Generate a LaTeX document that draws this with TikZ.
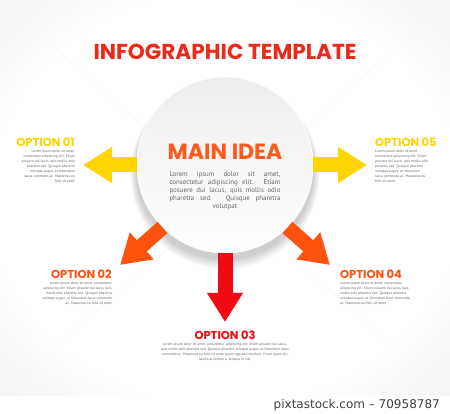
\documentclass[tikz,border=0pt]{standalone}
\usepackage{fontspec}
\setmainfont{PT Sans}
\newfontfamily\headfont{Poppins}
\newfontfamily\markfont{DejaVu Sans}
\usetikzlibrary{positioning,arrows.meta}
\definecolor{optyellow}{HTML}{FFD400}
\definecolor{optorange}{HTML}{FF520F}
\definecolor{optred}{HTML}{F20A14}
\definecolor{titlered}{HTML}{EC2A1C}
\definecolor{ideaorange}{HTML}{FF5A1E}
\definecolor{bodygray}{HTML}{666666}
\definecolor{midgray}{HTML}{E8E2E5}
\definecolor{edgegray}{HTML}{D0C5CA}
\pgfdeclareradialshading{vignette}{\pgfpoint{0bp}{0bp}}{color(0bp)=(white); color(26bp)=(white); color(50bp)=(midgray); color(72bp)=(edgegray); color(100bp)=(edgegray)}
\begin{document}
\begin{tikzpicture}[x=1pt, y=-1pt,
  opt/.style={font=\headfont\bfseries\fontsize{11.5}{11.5}\selectfont, inner sep=0pt},
  body/.style={font=\fontsize{3.6}{5}\selectfont, text=bodygray, inner sep=0pt},
  bigarrow/.style={line width=15pt, -{Triangle[length=29pt,width=34pt]}}]
  % background and bounding box
  \useasboundingbox (0,0) rectangle (450,414);
  \shade[shading=vignette] (0,0) rectangle (450,396);
  \fill[white] (0,396) rectangle (450,414);
  \foreach \a/\b in {{(0,0)}/{(450,396)}, {(450,0)}/{(0,396)}}
    \draw[white!93!gray, line width=0.4pt] \a -- \b;

  % title
  \node[font=\headfont\bfseries\fontsize{21.6}{22}\selectfont, text=titlered, inner sep=0pt] (title) at (225,52) {INFOGRAPHIC TEMPLATE};

  % soft shadow under the circle
  \foreach \i in {0,...,7}
    \fill[black, opacity=0.022] (225,171+\i*0.5) circle (89+\i*0.8);
  \node[circle, minimum size=176pt, inner sep=0pt, top color=gray!14, bottom color=white, draw=white, line width=0.8pt] (main) at (225,165) {};
  \node[font=\headfont\bfseries\fontsize{22}{22}\selectfont, text=ideaorange, inner sep=0pt] (idea) at (225,152) {MAIN IDEA};
  \node[font=\fontsize{6.9}{8}\selectfont, text=bodygray, text width=111pt, align=justify, inner sep=0pt, anchor=north]
    (ideatext) at (225,171) {Lorem ipsum dolor sit amet,\linebreak consectetur adipiscing elit. Etiam\linebreak posuere dui lacus, quis mollis odio\linebreak pharetra sed. Quisque pharetra\linebreak \mbox{}\hfill volutpat\hfill\mbox{}};

  % arrow tips
  \coordinate (t1) at (83,165);
  \coordinate (t2) at (120,265);
  \coordinate (t3) at (225,322);
  \coordinate (t4) at (330,265);
  \coordinate (t5) at (367,165);
  \draw[bigarrow, optyellow] (main.west) -- (t1);
  \draw[bigarrow, optorange] (main.-135) -- (t2);
  \draw[bigarrow, optred] (main.south) -- (t3);
  \draw[bigarrow, optorange] (main.-45) -- (t4);
  \draw[bigarrow, optyellow] (main.east) -- (t5);

  % options
  \node[opt, text=optyellow, anchor=east] (o1) at (75,142) {OPTION 01};
  \node[body, align=right, below left=3.5pt and 0pt of o1.south east] (b1) {Lorem ipsum dolor sit amet,\\ consectetur adipiscing elit. Etiam\\ posuere dui lacus, quis mollis odio\\ pharetra sed. Quisque pharetra\\ volutpat augue, ac bibendum\\ lacus commodo ac. Maecenas eu\\ felis sit amet};
  \node[opt, text=optyellow, anchor=west] (o5) at (375,142) {OPTION 05};
  \node[body, align=left, below right=3.5pt and 0pt of o5.south west] (b5) {Lorem ipsum dolor sit amet,\\ consectetur adipiscing elit. Etiam\\ posuere dui lacus, quis mollis odio\\ pharetra sed. Quisque pharetra\\ volutpat augue, ac bibendum\\ lacus commodo ac. Maecenas eu\\ felis sit amet};
  \node[opt, text=optorange, anchor=east] (o2) at (112,274) {OPTION 02};
  \node[body, align=right, below left=3.5pt and 0pt of o2.south east] (b2) {Lorem ipsum dolor sit amet, consectetur\\ adipiscing elit. Etiam posuere dui lacus, quis\\ mollis odio pharetra sed. Quisque pharetra\\ volutpat augue, ac bibendum lacus commodo\\ ac. Maecenas eu felis sit amet};
  \node[opt, text=optorange, anchor=west] (o4) at (340,274) {OPTION 04};
  \node[body, align=left, below right=3.5pt and 0pt of o4.south west] (b4) {Lorem ipsum dolor sit amet, consectetur\\ adipiscing elit. Etiam posuere dui lacus, quis\\ mollis odio pharetra sed. Quisque pharetra\\ volutpat augue, ac bibendum lacus commodo\\ ac. Maecenas eu felis sit amet};
  \node[opt, text=optred] (o3) at (225,335) {OPTION 03};
  \node[body, align=center, below=3.5pt of o3] (b3) {Lorem ipsum dolor sit amet, consectetur adipiscing elit. Etiam posuere dui lacus,\\ quis mollis odio pharetra sed. Quisque pharetra volutpat augue, ac bibendum lacus\\ commodo ac. Maecenas eu felis sit amet ipsum egestas tincidunt. Fusce quam dui,\\ iaculis at dictum a, tempus in nisi.};

  % stock mark
  \node[font=\markfont\fontsize{12}{12}\selectfont, text=black!75, anchor=east, inner sep=0pt] (mark) at (440,405) {pixtastock.com – 70958787};
\end{tikzpicture}
\end{document}
